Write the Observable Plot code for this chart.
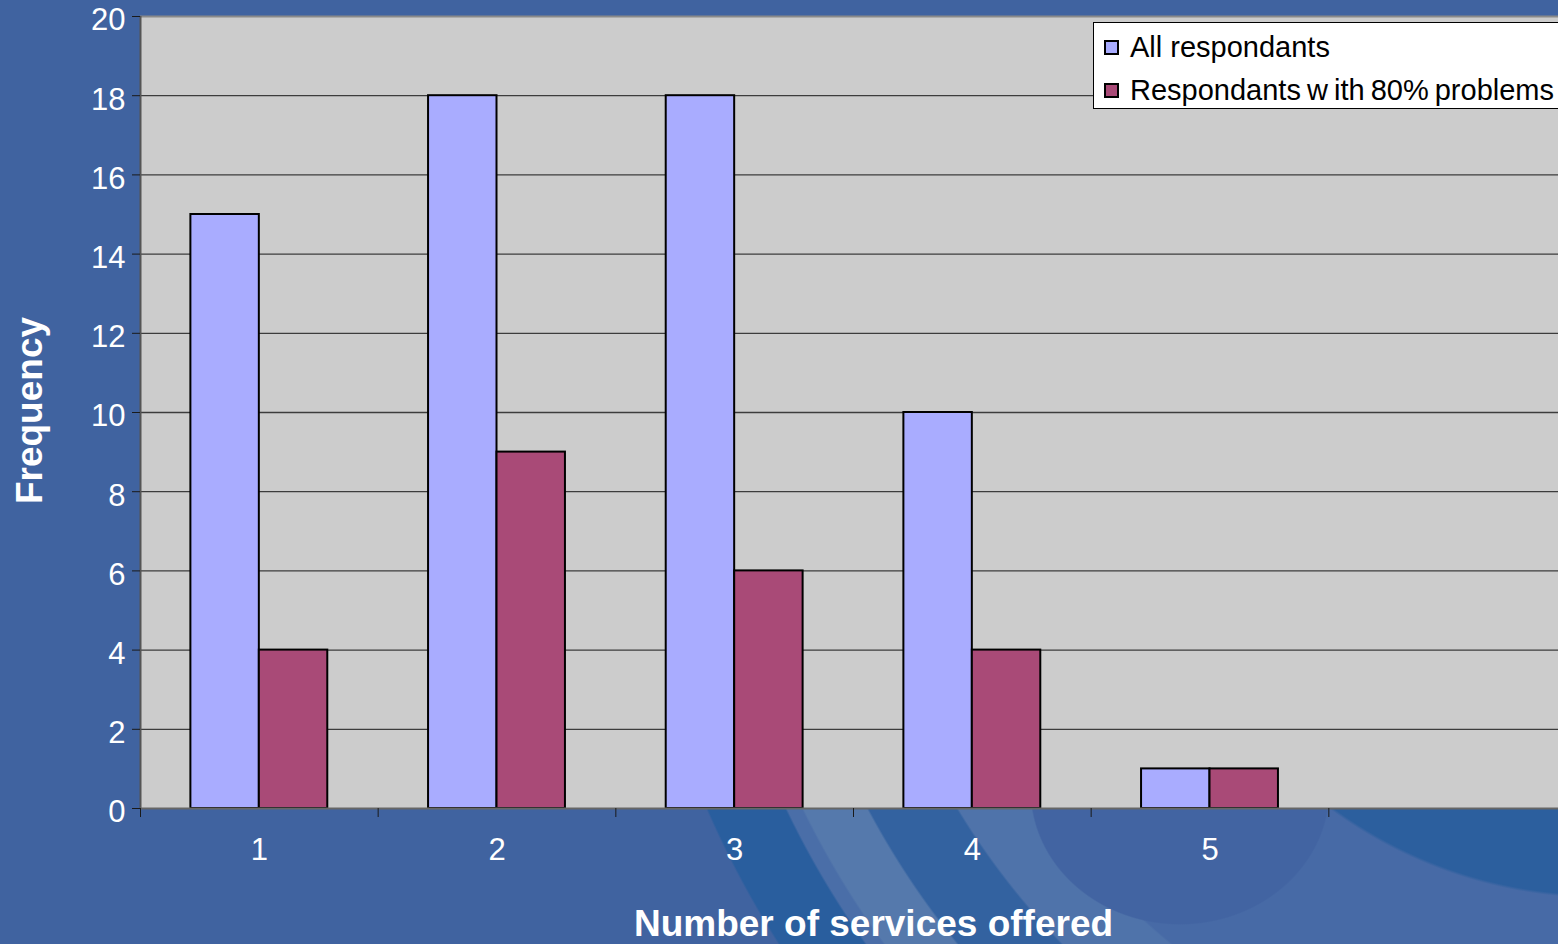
<!DOCTYPE html>
<html>
<head>
<meta charset="utf-8">
<script src="https://cdn.jsdelivr.net/npm/d3@7"></script>
<script src="https://cdn.jsdelivr.net/npm/@observablehq/plot@0.6"></script>
<style>
  html, body { margin: 0; padding: 0; }
  body {
    width: 1558px; height: 944px; overflow: hidden;
    font-family: "Liberation Sans", Arial, sans-serif;
    background-color: #4063a0;
  }
  #stage { position: relative; width: 1558px; height: 944px; background: #4063a0; overflow: hidden; }
  /* decorative swirls of the slide background, only visible below the plot area */
  #deco {
    position: absolute; left: 0; top: 808px; width: 1558px; height: 136px;
    background:
      radial-gradient(circle at 1600px -365px, #2c5f9e 0 452px, rgba(44,95,158,0) 455px),
      radial-gradient(ellipse 150px 135px at 1180px -18px, #4264a2 0 99%, rgba(66,100,162,0) 100%),
      radial-gradient(circle at 1600px -388px,
        #476aa6 0 676px,
        #4f73aa 678px 750px,
        #3362a0 752px 828px,
        #5579ac 830px 886px,
        #4a6ea8 888px 901px,
        #295e9e 903px 973px,
        rgba(64,99,160,0) 975px),
      #4063a0;
  }
  #legend {
    position: absolute; left: 1093px; top: 22px; width: 520px; height: 87px;
    background: #ffffff; border: 1px solid #000; box-sizing: border-box;
    font-size: 29px; color: #000;
  }
  #legend .row { position: absolute; left: 10px; display: flex; align-items: center; white-space: pre; }
  #legend .sw { width: 15px; height: 15px; border: 2px solid #000; box-sizing: border-box; margin-right: 11px; }
</style>
</head>
<body>
<div id="stage"><div id="deco"></div></div>
<script>
// Number of services offered by each respondent, two groups
const categories = [1, 2, 3, 4, 5];
const allRespondants = [15, 18, 18, 10, 1];
const respondantsWithProblems = [4, 9, 6, 4, 1];

const seriesNames = ["All respondants", "Respondants w ith 80% problems"];
const seriesColors = ["#a9acff", "#a94a77"];

const yTicks = [0, 2, 4, 6, 8, 10, 12, 14, 16, 18, 20];
const categoryBoundaries = [0.5, 1.5, 2.5, 3.5, 4.5, 5.5];

const xTitle = "Number of services offered";
const yTitle = "Frequency";

// One row per bar; side = -1 puts the bar left of the category centre, 0 right of it
const rows = categories.flatMap((c, i) => [
  {category: c, series: seriesNames[0], value: allRespondants[i], side: -1},
  {category: c, series: seriesNames[1], value: respondantsWithProblems[i], side: 0}
]);
const barWidth = 0.288; // in category units

const chart = Plot.plot({
  width: 1558,
  height: 944,
  marginLeft: 140,
  marginRight: 0,
  marginTop: 16,
  marginBottom: 136,
  style: {background: "transparent", fontFamily: "'Liberation Sans', Arial, sans-serif"},
  x: {type: "linear", domain: [0.5, 6.5], range: [140, 1566], axis: null},
  y: {domain: [0, 20], axis: null},
  color: {domain: seriesNames, range: seriesColors},
  marks: [
    Plot.frame({fill: "#cccccc", stroke: null}),
    Plot.ruleY(yTicks.filter(t => t > 0 && t < 20), {stroke: "#3c3c3c", strokeWidth: 1.3}),
    Plot.ruleY([20], {stroke: "#8a8a8a", strokeWidth: 2}),
    Plot.rect(rows, {
      x1: d => d.category + d.side * barWidth,
      x2: d => d.category + (d.side + 1) * barWidth,
      y1: 0,
      y2: "value",
      fill: "series",
      stroke: "#000",
      strokeWidth: 2
    }),
    Plot.ruleX([0.5], {stroke: "#555", strokeWidth: 2}),
    Plot.ruleY([0], {stroke: "#666", strokeWidth: 2}),
    // y ticks, then their labels sitting slightly below each tick
    Plot.axisY(yTicks, {tickSize: 8, tickFormat: () => "", stroke: "#1a1a1a", label: null}),
    Plot.axisY(yTicks, {tickSize: 0, tickPadding: 15, dy: 4, fontSize: 31, fill: "#ffffff", label: null}),
    Plot.axisX(categoryBoundaries, {tickSize: 9, tickFormat: () => "", stroke: "#1a1a1a", label: null}),
    Plot.axisX(categories, {tickSize: 0, tickPadding: 29, fontSize: 31, fill: "#ffffff", tickFormat: d => String(d), label: null}),
    Plot.text([xTitle], {text: d => d, frameAnchor: "bottom", dx: 24, dy: 127, fontSize: 37, fontWeight: "bold", fill: "#ffffff"}),
    Plot.text([yTitle], {text: d => d, frameAnchor: "left", textAnchor: "middle", dx: -110, dy: -2, rotate: -90, fontSize: 37, fontWeight: "bold", fill: "#ffffff"})
  ]
});

const stage = document.getElementById("stage");
chart.style.position = "absolute";
chart.style.left = "0";
chart.style.top = "0";
stage.appendChild(chart);

// Legend box in the upper-right corner of the plot area
const legend = document.createElement("div");
legend.id = "legend";
seriesNames.forEach((name, i) => {
  const row = document.createElement("div");
  row.className = "row";
  row.style.top = (i === 0 ? 8 : 51) + "px";
  row.style.wordSpacing = i === 0 ? "0" : "-2px";
  const sw = document.createElement("span");
  sw.className = "sw";
  sw.style.background = seriesColors[i];
  const label = document.createElement("span");
  label.textContent = name;
  row.appendChild(sw);
  row.appendChild(label);
  legend.appendChild(row);
});
stage.appendChild(legend);
</script>
</body>
</html>
